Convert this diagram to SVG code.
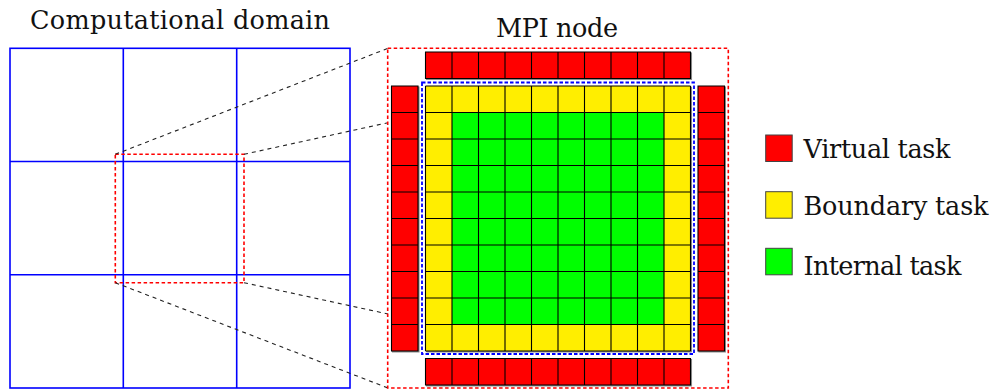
<svg xmlns="http://www.w3.org/2000/svg" width="994" height="389" viewBox="0 0 994 389">
  <defs>
    <filter id="shade" x="-5%" y="-5%" width="110%" height="110%">
      <feDropShadow dx="1" dy="1" stdDeviation="0.4" flood-color="#000" flood-opacity="0.45"/>
    </filter>
    <style>
      .title { font-family: "DejaVu Serif", "Liberation Serif", serif; font-size: 25.5px; fill: #111; }
      .domain { fill: none; stroke: #0000ff; stroke-width: 1.6; }
      .zone { fill: none; stroke: #ff0000; stroke-width: 1.6; stroke-dasharray: 3.5 2.5; }
      .halo { fill: none; stroke: #0000ff; stroke-width: 1.8; stroke-dasharray: 3.5 2; }
      .proj { fill: none; stroke: #222; stroke-width: 1.1; stroke-dasharray: 4 4; }
      .grid { fill: none; stroke: #000; stroke-width: 1.1; }
      .virtual { fill: #ff0000; }
      .boundary { fill: #ffee00; }
      .internal { fill: #00ff00; }
      .key { stroke: #444; stroke-width: 1; }
    </style>
  </defs>

  <rect width="994" height="389" fill="#fff"/>

  <!-- whole computational domain split into 3x3 MPI nodes -->
  <g id="domain">
    <text class="title" x="180" y="28.5" text-anchor="middle" textLength="300" lengthAdjust="spacing">Computational domain</text>
    <rect class="domain" x="10" y="48.3" width="340" height="339.7"/>
    <path class="domain" d="M123.3 48.3V388M236.7 48.3V388M10 161.5H350M10 274.8H350"/>
    <rect class="zone" x="115.3" y="154.3" width="128.7" height="128.4"/>
  </g>

  <!-- projection lines from the selected node to its close-up -->
  <g id="connectors">
    <line class="proj" x1="115.3" y1="154.3" x2="388" y2="48.3"/>
    <line class="proj" x1="244" y1="154.3" x2="388" y2="122.7"/>
    <line class="proj" x1="115.3" y1="282.7" x2="388" y2="388"/>
    <line class="proj" x1="244" y1="282.7" x2="388" y2="314"/>
  </g>

  <!-- close-up of one MPI node -->
  <g id="mpi-node">
    <text class="title" x="557" y="36.5" text-anchor="middle" textLength="122" lengthAdjust="spacing">MPI node</text>
    <rect class="zone" x="387.7" y="48.3" width="340.6" height="339.7"/>

    <g id="tasks" filter="url(#shade)">
      <!-- boundary ring and internal block -->
      <rect class="boundary" x="425.5" y="86" width="265" height="265"/>
      <rect class="internal" x="452" y="112.5" width="212" height="212"/>
      <path class="grid" d="M425.5 86V351M452 86V351M478.5 86V351M505 86V351M531.5 86V351M558 86V351M584.5 86V351M611 86V351M637.5 86V351M664 86V351M690.5 86V351
        M425.5 86H690.5M425.5 112.5H690.5M425.5 139H690.5M425.5 165.5H690.5M425.5 192H690.5M425.5 218.5H690.5M425.5 245H690.5M425.5 271.5H690.5M425.5 298H690.5M425.5 324.5H690.5M425.5 351H690.5"/>
    </g>

    <!-- virtual (ghost) tasks on the four sides -->
    <g id="virtual-top" filter="url(#shade)">
      <rect class="virtual" x="425.5" y="52" width="265" height="26.5"/>
      <path class="grid" d="M425.5 52H690.5V78.5H425.5ZM452 52V78.5M478.5 52V78.5M505 52V78.5M531.5 52V78.5M558 52V78.5M584.5 52V78.5M611 52V78.5M637.5 52V78.5M664 52V78.5"/>
    </g>
    <g id="virtual-bottom" filter="url(#shade)">
      <rect class="virtual" x="425.5" y="358.5" width="265" height="26.5"/>
      <path class="grid" d="M425.5 358.5H690.5V385H425.5ZM452 358.5V385M478.5 358.5V385M505 358.5V385M531.5 358.5V385M558 358.5V385M584.5 358.5V385M611 358.5V385M637.5 358.5V385M664 358.5V385"/>
    </g>
    <g id="virtual-left" filter="url(#shade)">
      <rect class="virtual" x="391.5" y="86" width="26.5" height="265"/>
      <path class="grid" d="M391.5 86H418V351H391.5ZM391.5 112.5H418M391.5 139H418M391.5 165.5H418M391.5 192H418M391.5 218.5H418M391.5 245H418M391.5 271.5H418M391.5 298H418M391.5 324.5H418"/>
    </g>
    <g id="virtual-right" filter="url(#shade)">
      <rect class="virtual" x="698" y="86" width="26.5" height="265"/>
      <path class="grid" d="M698 86H724.5V351H698ZM698 112.5H724.5M698 139H724.5M698 165.5H724.5M698 192H724.5M698 218.5H724.5M698 245H724.5M698 271.5H724.5M698 298H724.5M698 324.5H724.5"/>
    </g>

    <rect class="halo" x="422" y="82.5" width="272" height="271.5"/>
  </g>

  <!-- legend -->
  <g id="legend-virtual">
    <rect class="virtual key" x="765.7" y="135" width="26.5" height="26.5"/>
    <text class="title" x="803.5" y="158.3" textLength="147" lengthAdjust="spacing">Virtual task</text>
  </g>
  <g id="legend-boundary">
    <rect class="boundary key" x="765.7" y="191.7" width="26.5" height="26.5"/>
    <text class="title" x="803.5" y="215" textLength="185" lengthAdjust="spacing">Boundary task</text>
  </g>
  <g id="legend-internal">
    <rect class="internal key" x="765.7" y="248.3" width="26.5" height="26.5"/>
    <text class="title" x="803.5" y="275" textLength="158" lengthAdjust="spacing">Internal task</text>
  </g>
</svg>
